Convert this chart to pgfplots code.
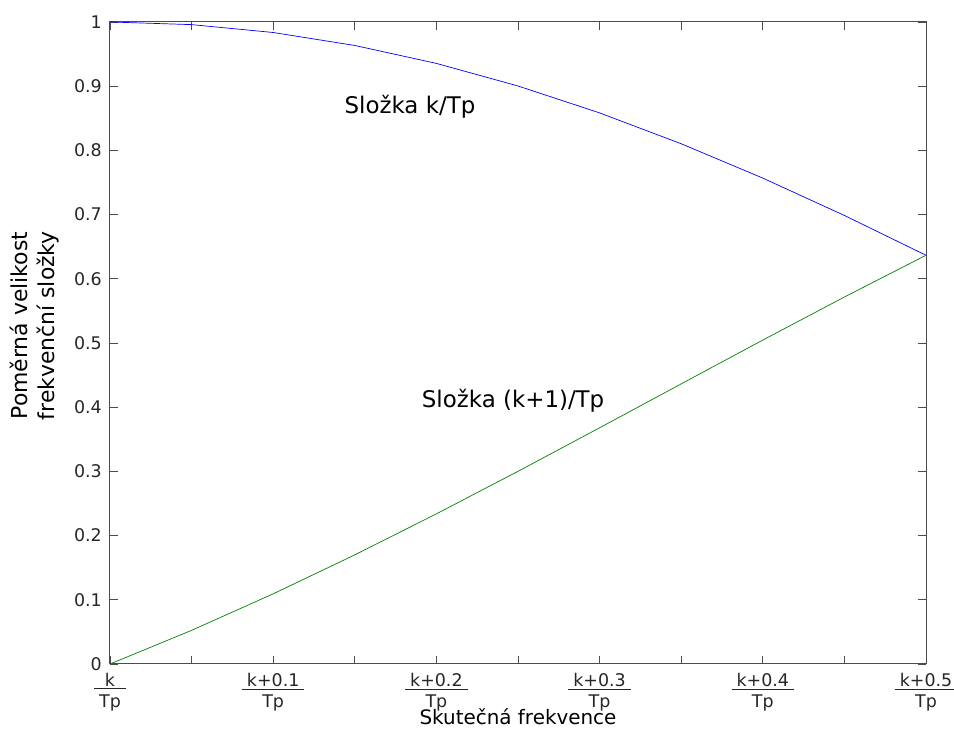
\documentclass[border=0pt]{standalone}
\usepackage{pgfplots}
\pgfplotsset{compat=1.18}
\usepackage{fontspec}
\setmainfont{DejaVu Sans}
\newcommand\fr[1]{%
  \setbox0\hbox{#1}\setbox2\hbox{Tp}%
  \dimen0=\ifdim\wd0>\wd2 \wd0\else\wd2\fi
  \advance\dimen0 by 10bp
  \vbox{\hbox to\dimen0{\hss\box0\hss}\kern2bp
    \hrule width\dimen0 height0.8bp\kern5.2bp
    \hbox to\dimen0{\hss\box2\hss}}}
\pgfplotstableread{
x blue green
0.00 1.00000 0.00000
0.05 0.99589 0.05242
0.10 0.98363 0.10929
0.15 0.96340 0.17001
0.20 0.93549 0.23387
0.25 0.90032 0.30011
0.30 0.85839 0.36788
0.35 0.81034 0.43633
0.40 0.75683 0.50455
0.45 0.69865 0.57162
0.50 0.63662 0.63662
}\datatable
\begin{document}
\begin{tikzpicture}[x=1bp,y=1bp]
\useasboundingbox (-110,-65) rectangle (844,664);
\begin{axis}[
  at={(0,0)}, anchor=south west,
  scale only axis, width=816bp, height=642bp,
  xmin=0, xmax=0.5, ymin=0, ymax=1,
  xtick={0,0.05,...,0.5},
  xticklabels={\fr{k},,\fr{k+0.1},,\fr{k+0.2},,\fr{k+0.3},,\fr{k+0.4},,\fr{k+0.5}},
  xticklabel style={inner sep=0pt, yshift=-9bp},
  ytick={0,0.1,...,1},
  yticklabel style={/pgf/number format/fixed, /pgf/number format/precision=1, inner sep=0pt, xshift=-8bp},
  /pgf/number format/assume math mode=true,
  tick label style={font=\fontsize{17.5}{20}\selectfont, text=black!85},
  tick align=inside, major tick length=8bp,
  axis line style={black!70, line width=1bp},
  every tick/.style={black!70, line width=0.7bp},
  xlabel={Skutečná frekvence},
  ylabel={Poměrná velikost\\frekvenční složky},
  xlabel style={font=\fontsize{20}{24}\selectfont, at={(axis description cs:0.5,0)}, anchor=base, inner sep=0pt, yshift=-61bp},
  ylabel style={font=\fontsize{22}{27}\selectfont, align=center, at={(axis description cs:-0.0925,0.527)}, anchor=center},
  clip=false,
]
\addplot[blue, line width=0.7bp] table[x=x, y=blue] {\datatable};
\addplot[green!50!black, line width=0.7bp] table[x=x, y=green] {\datatable};
\node[font=\fontsize{23}{26}\selectfont, anchor=base] at (axis cs:0.1838,0.858) {Složka k/Tp};
\node[font=\fontsize{23}{26}\selectfont, anchor=base] at (axis cs:0.247,0.399) {Složka (k+1)/Tp};
\end{axis}
\end{tikzpicture}
\end{document}
